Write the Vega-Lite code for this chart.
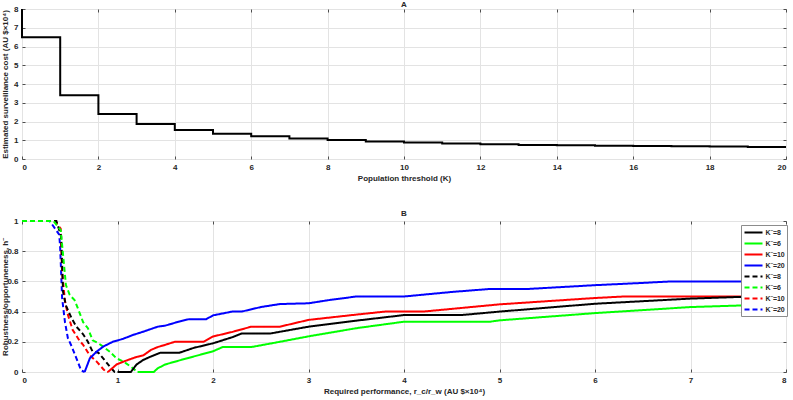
{
  "$schema": "https://vega.github.io/schema/vega-lite/v6.json",
  "padding": {"left": 0, "top": 0, "right": 0, "bottom": 0},
  "spacing": 26,
  "datasets": {
    "cost": [
      {"i": 0, "K": 0, "cost": 8},
      {"i": 1, "K": 0, "cost": 6.5},
      {"i": 2, "K": 1, "cost": 3.4},
      {"i": 3, "K": 2, "cost": 2.4},
      {"i": 4, "K": 3, "cost": 1.87},
      {"i": 5, "K": 4, "cost": 1.55},
      {"i": 6, "K": 5, "cost": 1.35},
      {"i": 7, "K": 6, "cost": 1.22},
      {"i": 8, "K": 7, "cost": 1.1},
      {"i": 9, "K": 8, "cost": 1.02},
      {"i": 10, "K": 9, "cost": 0.93},
      {"i": 11, "K": 10, "cost": 0.88},
      {"i": 12, "K": 11, "cost": 0.83},
      {"i": 13, "K": 12, "cost": 0.79},
      {"i": 14, "K": 13, "cost": 0.75},
      {"i": 15, "K": 14, "cost": 0.73},
      {"i": 16, "K": 15, "cost": 0.71},
      {"i": 17, "K": 16, "cost": 0.69},
      {"i": 18, "K": 17, "cost": 0.68},
      {"i": 19, "K": 18, "cost": 0.67},
      {"i": 20, "K": 19, "cost": 0.64},
      {"i": 21, "K": 20, "cost": 0.64}
    ],
    "rob": [
      {"s": "K˜=20 ", "x": 0, "y": 1}, {"s": "K˜=20 ", "x": 0.29, "y": 1}, {"s": "K˜=20 ", "x": 0.39, "y": 0.91}, {"s": "K˜=20 ", "x": 0.4, "y": 0.82}, {"s": "K˜=20 ", "x": 0.42, "y": 0.49}, {"s": "K˜=20 ", "x": 0.45, "y": 0.33}, {"s": "K˜=20 ", "x": 0.48, "y": 0.225}, {"s": "K˜=20 ", "x": 0.52, "y": 0.17}, {"s": "K˜=20 ", "x": 0.57, "y": 0.09}, {"s": "K˜=20 ", "x": 0.62, "y": 0.01}, {"s": "K˜=20 ", "x": 0.656, "y": 0},
      {"s": "K˜=10 ", "x": 0, "y": 1}, {"s": "K˜=10 ", "x": 0.34, "y": 1}, {"s": "K˜=10 ", "x": 0.405, "y": 0.95}, {"s": "K˜=10 ", "x": 0.42, "y": 0.66}, {"s": "K˜=10 ", "x": 0.45, "y": 0.47}, {"s": "K˜=10 ", "x": 0.48, "y": 0.38}, {"s": "K˜=10 ", "x": 0.53, "y": 0.28}, {"s": "K˜=10 ", "x": 0.6, "y": 0.21}, {"s": "K˜=10 ", "x": 0.64, "y": 0.18}, {"s": "K˜=10 ", "x": 0.71, "y": 0.11}, {"s": "K˜=10 ", "x": 0.78, "y": 0.07}, {"s": "K˜=10 ", "x": 0.85, "y": 0.02}, {"s": "K˜=10 ", "x": 0.88, "y": 0}, {"s": "K˜=10 ", "x": 0.9, "y": 0},
      {"s": "K˜=8 ", "x": 0, "y": 1}, {"s": "K˜=8 ", "x": 0.36, "y": 1}, {"s": "K˜=8 ", "x": 0.41, "y": 0.9}, {"s": "K˜=8 ", "x": 0.43, "y": 0.53}, {"s": "K˜=8 ", "x": 0.46, "y": 0.44}, {"s": "K˜=8 ", "x": 0.52, "y": 0.355}, {"s": "K˜=8 ", "x": 0.57, "y": 0.3}, {"s": "K˜=8 ", "x": 0.64, "y": 0.25}, {"s": "K˜=8 ", "x": 0.69, "y": 0.2}, {"s": "K˜=8 ", "x": 0.74, "y": 0.134}, {"s": "K˜=8 ", "x": 0.8, "y": 0.128}, {"s": "K˜=8 ", "x": 0.85, "y": 0.09}, {"s": "K˜=8 ", "x": 0.92, "y": 0.035}, {"s": "K˜=8 ", "x": 0.97, "y": 0}, {"s": "K˜=8 ", "x": 1.0, "y": 0},
      {"s": "K˜=6 ", "x": 0, "y": 1}, {"s": "K˜=6 ", "x": 0.33, "y": 1}, {"s": "K˜=6 ", "x": 0.405, "y": 0.94}, {"s": "K˜=6 ", "x": 0.44, "y": 0.71}, {"s": "K˜=6 ", "x": 0.46, "y": 0.576}, {"s": "K˜=6 ", "x": 0.5, "y": 0.51}, {"s": "K˜=6 ", "x": 0.55, "y": 0.477}, {"s": "K˜=6 ", "x": 0.586, "y": 0.42}, {"s": "K˜=6 ", "x": 0.64, "y": 0.33}, {"s": "K˜=6 ", "x": 0.69, "y": 0.29}, {"s": "K˜=6 ", "x": 0.74, "y": 0.21}, {"s": "K˜=6 ", "x": 0.8, "y": 0.19}, {"s": "K˜=6 ", "x": 0.85, "y": 0.168}, {"s": "K˜=6 ", "x": 0.92, "y": 0.134}, {"s": "K˜=6 ", "x": 0.99, "y": 0.09}, {"s": "K˜=6 ", "x": 1.06, "y": 0.07}, {"s": "K˜=6 ", "x": 1.14, "y": 0.035}, {"s": "K˜=6 ", "x": 1.21, "y": 0},
      {"s": "K˜=20", "x": 0.656, "y": 0}, {"s": "K˜=20", "x": 0.71, "y": 0.09}, {"s": "K˜=20", "x": 0.78, "y": 0.134}, {"s": "K˜=20", "x": 0.85, "y": 0.168}, {"s": "K˜=20", "x": 0.95, "y": 0.2}, {"s": "K˜=20", "x": 1.06, "y": 0.22}, {"s": "K˜=20", "x": 1.16, "y": 0.245}, {"s": "K˜=20", "x": 1.27, "y": 0.267}, {"s": "K˜=20", "x": 1.42, "y": 0.3}, {"s": "K˜=20", "x": 1.5, "y": 0.307}, {"s": "K˜=20", "x": 1.65, "y": 0.335}, {"s": "K˜=20", "x": 1.75, "y": 0.35}, {"s": "K˜=20", "x": 1.93, "y": 0.35}, {"s": "K˜=20", "x": 2.0, "y": 0.375}, {"s": "K˜=20", "x": 2.2, "y": 0.4}, {"s": "K˜=20", "x": 2.3, "y": 0.4}, {"s": "K˜=20", "x": 2.5, "y": 0.43}, {"s": "K˜=20", "x": 2.7, "y": 0.45}, {"s": "K˜=20", "x": 3.0, "y": 0.455}, {"s": "K˜=20", "x": 3.2, "y": 0.475}, {"s": "K˜=20", "x": 3.5, "y": 0.5}, {"s": "K˜=20", "x": 4.0, "y": 0.5}, {"s": "K˜=20", "x": 4.5, "y": 0.53}, {"s": "K˜=20", "x": 4.9, "y": 0.55}, {"s": "K˜=20", "x": 5.3, "y": 0.55}, {"s": "K˜=20", "x": 6.0, "y": 0.575}, {"s": "K˜=20", "x": 6.5, "y": 0.59}, {"s": "K˜=20", "x": 6.8, "y": 0.6}, {"s": "K˜=20", "x": 8.0, "y": 0.6},
      {"s": "K˜=10", "x": 0.9, "y": 0}, {"s": "K˜=10", "x": 0.99, "y": 0.05}, {"s": "K˜=10", "x": 1.09, "y": 0.075}, {"s": "K˜=10", "x": 1.2, "y": 0.1}, {"s": "K˜=10", "x": 1.27, "y": 0.11}, {"s": "K˜=10", "x": 1.35, "y": 0.146}, {"s": "K˜=10", "x": 1.42, "y": 0.165}, {"s": "K˜=10", "x": 1.5, "y": 0.18}, {"s": "K˜=10", "x": 1.6, "y": 0.2}, {"s": "K˜=10", "x": 1.9, "y": 0.2}, {"s": "K˜=10", "x": 2.0, "y": 0.235}, {"s": "K˜=10", "x": 2.2, "y": 0.265}, {"s": "K˜=10", "x": 2.4, "y": 0.3}, {"s": "K˜=10", "x": 2.7, "y": 0.3}, {"s": "K˜=10", "x": 3.0, "y": 0.345}, {"s": "K˜=10", "x": 3.5, "y": 0.38}, {"s": "K˜=10", "x": 3.8, "y": 0.4}, {"s": "K˜=10", "x": 4.2, "y": 0.4}, {"s": "K˜=10", "x": 5.0, "y": 0.448}, {"s": "K˜=10", "x": 6.0, "y": 0.49}, {"s": "K˜=10", "x": 6.3, "y": 0.5}, {"s": "K˜=10", "x": 7.9, "y": 0.5}, {"s": "K˜=10", "x": 8.0, "y": 0.51},
      {"s": "K˜=8", "x": 1.0, "y": 0}, {"s": "K˜=8", "x": 1.14, "y": 0}, {"s": "K˜=8", "x": 1.2, "y": 0.05}, {"s": "K˜=8", "x": 1.27, "y": 0.08}, {"s": "K˜=8", "x": 1.34, "y": 0.1}, {"s": "K˜=8", "x": 1.45, "y": 0.128}, {"s": "K˜=8", "x": 1.65, "y": 0.128}, {"s": "K˜=8", "x": 1.8, "y": 0.16}, {"s": "K˜=8", "x": 2.0, "y": 0.19}, {"s": "K˜=8", "x": 2.2, "y": 0.23}, {"s": "K˜=8", "x": 2.3, "y": 0.255}, {"s": "K˜=8", "x": 2.6, "y": 0.255}, {"s": "K˜=8", "x": 3.0, "y": 0.3}, {"s": "K˜=8", "x": 3.5, "y": 0.34}, {"s": "K˜=8", "x": 4.0, "y": 0.377}, {"s": "K˜=8", "x": 4.6, "y": 0.377}, {"s": "K˜=8", "x": 5.0, "y": 0.4}, {"s": "K˜=8", "x": 6.0, "y": 0.452}, {"s": "K˜=8", "x": 7.0, "y": 0.486}, {"s": "K˜=8", "x": 7.5, "y": 0.497}, {"s": "K˜=8", "x": 8.0, "y": 0.5},
      {"s": "K˜=6", "x": 1.21, "y": 0}, {"s": "K˜=6", "x": 1.38, "y": 0}, {"s": "K˜=6", "x": 1.42, "y": 0.024}, {"s": "K˜=6", "x": 1.5, "y": 0.05}, {"s": "K˜=6", "x": 1.7, "y": 0.086}, {"s": "K˜=6", "x": 2.0, "y": 0.137}, {"s": "K˜=6", "x": 2.1, "y": 0.165}, {"s": "K˜=6", "x": 2.4, "y": 0.165}, {"s": "K˜=6", "x": 2.7, "y": 0.2}, {"s": "K˜=6", "x": 3.0, "y": 0.236}, {"s": "K˜=6", "x": 3.5, "y": 0.29}, {"s": "K˜=6", "x": 4.0, "y": 0.333}, {"s": "K˜=6", "x": 4.9, "y": 0.333}, {"s": "K˜=6", "x": 5.0, "y": 0.342}, {"s": "K˜=6", "x": 6.0, "y": 0.39}, {"s": "K˜=6", "x": 7.0, "y": 0.43}, {"s": "K˜=6", "x": 7.5, "y": 0.44}, {"s": "K˜=6", "x": 8.0, "y": 0.46}
    ]
  },
  "vconcat": [
    {
      "width": 764,
      "height": 150,
      "title": {"text": "A", "offset": -4},
      "data": {"name": "cost"},
      "resolve": {"axis": {"x": "independent", "y": "independent"}},
      "layer": [
        {
          "mark": {"type": "line", "interpolate": "step-after", "color": "black", "strokeWidth": 2},
          "encoding": {
            "x": {"field": "K", "type": "quantitative", "scale": {"domain": [0, 20], "nice": false},
              "axis": {"orient": "bottom", "title": "Population threshold (K)", "values": [0, 2, 4, 6, 8, 10, 12, 14, 16, 18, 20], "grid": true}},
            "y": {"field": "cost", "type": "quantitative", "scale": {"domain": [0, 8], "nice": false},
              "axis": {"orient": "left", "title": "Estimated surveillance cost (AU $×10⁴)", "values": [0, 1, 2, 3, 4, 5, 6, 7, 8], "grid": true, "titleX": -17, "titleBaseline": "middle"}},
            "order": {"field": "i", "type": "quantitative"}
          }
        },
        {
          "mark": {"type": "point", "opacity": 0},
          "encoding": {
            "x": {"field": "K", "type": "quantitative", "axis": {"orient": "top", "labels": false, "grid": false, "title": null, "values": [0, 2, 4, 6, 8, 10, 12, 14, 16, 18, 20]}},
            "y": {"field": "cost", "type": "quantitative", "axis": {"orient": "right", "labels": false, "grid": false, "title": null, "values": [0, 1, 2, 3, 4, 5, 6, 7, 8]}}
          }
        }
      ]
    },
    {
      "width": 764,
      "height": 151,
      "title": {"text": "B", "offset": -1},
      "data": {"name": "rob"},
      "resolve": {"axis": {"x": "independent", "y": "independent"}},
      "layer": [
        {
          "mark": {"type": "line", "strokeWidth": 2},
          "encoding": {
            "x": {"field": "x", "type": "quantitative", "scale": {"domain": [0, 8], "nice": false},
              "axis": {"orient": "bottom", "title": "Required performance, r_c/r_w (AU $×10⁴)", "values": [0, 1, 2, 3, 4, 5, 6, 7, 8], "grid": true}},
            "y": {"field": "y", "type": "quantitative", "scale": {"domain": [0, 1], "nice": false},
              "axis": {"orient": "left", "title": "Robustness/opportuneness, h˜", "values": [0, 0.2, 0.4, 0.6, 0.8, 1], "format": "~g", "grid": true, "titleX": -17, "titleBaseline": "middle"}},
            "color": {"field": "s", "type": "nominal",
              "scale": {"domain": ["K˜=8", "K˜=6", "K˜=10", "K˜=20", "K˜=8 ", "K˜=6 ", "K˜=10 ", "K˜=20 "],
                "range": ["#000000", "#00ff00", "#ff0000", "#0000ff", "#000000", "#00ff00", "#ff0000", "#0000ff"]},
              "legend": {"title": null, "orient": "none", "legendX": 719, "legendY": 216}},
            "strokeDash": {"field": "s", "type": "nominal",
              "scale": {"domain": ["K˜=8", "K˜=6", "K˜=10", "K˜=20", "K˜=8 ", "K˜=6 ", "K˜=10 ", "K˜=20 "],
                "range": [[1, 0], [1, 0], [1, 0], [1, 0], [5, 3], [5, 3], [5, 3], [5, 3]]},
              "legend": {"title": null, "orient": "none", "legendX": 719, "legendY": 216}}
          }
        },
        {
          "mark": {"type": "point", "opacity": 0},
          "encoding": {
            "x": {"field": "x", "type": "quantitative", "axis": {"orient": "top", "labels": false, "grid": false, "title": null, "values": [0, 1, 2, 3, 4, 5, 6, 7, 8]}},
            "y": {"field": "y", "type": "quantitative", "axis": {"orient": "right", "labels": false, "grid": false, "title": null, "values": [0, 0.2, 0.4, 0.6, 0.8, 1]}}
          }
        }
      ]
    }
  ],
  "config": {
    "font": "Liberation Sans",
    "view": {"stroke": "#8c8c8c", "strokeWidth": 1},
    "axis": {
      "labelFont": "Liberation Sans", "labelFontSize": 8, "labelFontWeight": "bold", "labelColor": "#262626",
      "titleFont": "Liberation Sans", "titleFontSize": 8, "titleFontWeight": "bold", "titleColor": "#262626",
      "domain": false, "tickSize": -3, "tickColor": "#4d4d4d", "labelPadding": 7,
      "gridColor": "#e3e3e3", "gridOpacity": 1, "titlePadding": 3
    },
    "title": {"font": "Liberation Sans", "fontSize": 8, "fontWeight": "bold", "color": "#262626"},
    "legend": {
      "symbolType": "M-2,0H2", "symbolSize": 81, "symbolStrokeWidth": 2, "symbolOffset": 5,
      "labelFont": "Liberation Sans", "labelFontSize": 7, "labelFontWeight": "bold", "labelColor": "#262626",
      "labelOffset": 6.5, "fillColor": "white", "strokeColor": "#8c8c8c", "padding": 2, "rowPadding": 1
    }
  }
}
